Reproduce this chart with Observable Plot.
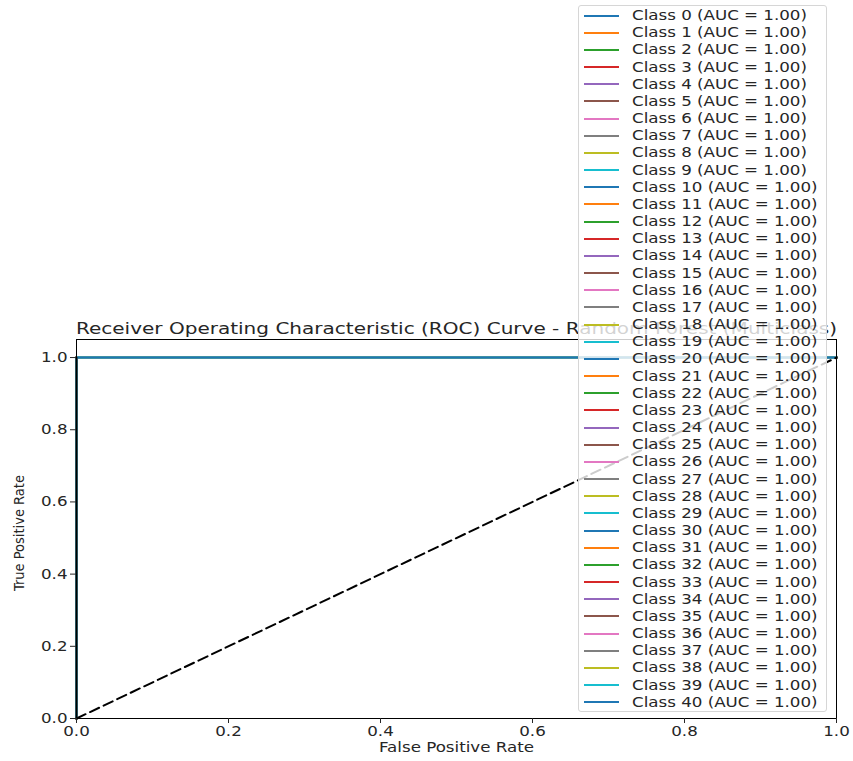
<!DOCTYPE html>
<html>
<head>
<meta charset="utf-8">
<script src="https://cdn.jsdelivr.net/npm/d3@7"></script>
<script src="https://cdn.jsdelivr.net/npm/@observablehq/plot@0.6"></script>
<style>
  html, body { margin: 0; padding: 0; background: #fff; }
  #wrap { position: relative; width: 853px; height: 761px; font-family: "DejaVu Sans", sans-serif; }
  #legend { position: absolute; left: 578px; top: 5px; width: 249px; height: 707px;
    background: rgba(255,255,255,0.8); border: 1px solid #d6d6d6; border-radius: 3px; box-sizing: border-box; }
  .row { position: absolute; left: 0; height: 17px; width: 100%; }
  .row .h { position: absolute; left: 5px; top: 7.5px; width: 35px; height: 2px; }
  .row .t { position: absolute; left: 53px; top: 0; font-size: 13.9px; line-height: 17px; color: #262626;
    white-space: nowrap; transform: scaleX(1.2); transform-origin: 0 50%; }
</style>
</head>
<body>
<div id="wrap"></div>
<script>
const classes = [0,1,2,3,4,5,6,7,8,9,10,11,12,13,14,15,16,17,18,19,20,21,22,23,24,25,26,27,28,29,30,31,32,33,34,35,36,37,38,39,40];
const aucValues = [1.00,1.00,1.00,1.00,1.00,1.00,1.00,1.00,1.00,1.00,1.00,1.00,1.00,1.00,1.00,1.00,1.00,1.00,1.00,1.00,1.00,1.00,1.00,1.00,1.00,1.00,1.00,1.00,1.00,1.00,1.00,1.00,1.00,1.00,1.00,1.00,1.00,1.00,1.00,1.00,1.00];
const fpr = [0, 0, 1];
const tpr = [0, 1, 1];
const chanceX = [0, 1];
const chanceY = [0, 1];
const palette = ["#1f77b4","#ff7f0e","#2ca02c","#d62728","#9467bd","#8c564b","#e377c2","#7f7f7f","#bcbd22","#17becf"];
const xTicks = [0, 0.2, 0.4, 0.6, 0.8, 1.0];
const yTicks = [0, 0.2, 0.4, 0.6, 0.8, 1.0];
const titleText = "Receiver Operating Characteristic (ROC) Curve - Random Forest (Multiclass)";
const xLabel = "False Positive Rate";
const yLabel = "True Positive Rate";

const rocData = classes.flatMap((c, i) => fpr.map((f, j) => ({cls: c, color: palette[i % 10], x: f, y: tpr[j]})));
const diag = chanceX.map((x, i) => ({x, y: chanceY[i]}));

const chart = Plot.plot({
  width: 853,
  height: 761,
  marginLeft: 76,
  marginRight: 17,
  marginTop: 339,
  marginBottom: 43,
  style: {fontFamily: "DejaVu Sans, sans-serif", fontSize: "13.9px", color: "#262626", background: "#fff"},
  x: {domain: [0, 1], label: null},
  y: {domain: [0, 1.05], label: null},
  marks: [
    Plot.line(rocData, {x: "x", y: "y", z: "cls", stroke: "color", strokeWidth: 2}),
    Plot.line(diag, {x: "x", y: "y", stroke: "black", strokeWidth: 2, strokeDasharray: "10,5"}),
    Plot.ruleX([0], {y1: 0, y2: 1, stroke: "#111", strokeWidth: 2}),
    Plot.frame({stroke: "black", strokeWidth: 1}),
    Plot.axisX({ticks: xTicks, tickFormat: d3.format(".1f"), tickSize: 5, tickPadding: 3, label: null, fontSize: 13.9}),
    Plot.axisY({ticks: yTicks, tickFormat: d3.format(".1f"), tickSize: 6, tickPadding: 3, label: null, fontSize: 13.9}),
    Plot.text([titleText], {frameAnchor: "top", dy: -6, fontSize: 16.7, fill: "#262626", lineAnchor: "bottom"}),
    Plot.text([xLabel], {frameAnchor: "bottom", dy: 29, fontSize: 13.9, fill: "#262626", lineAnchor: "middle"}),
    Plot.text([yLabel], {frameAnchor: "left", textAnchor: "middle", dx: -57, dy: 4, rotate: -90, fontSize: 14.5, fill: "#262626", fontFamily: "DejaVu Sans Condensed, Liberation Sans Narrow, sans-serif", fontStretch: "condensed"})
  ]
});

const wrap = document.getElementById("wrap");
wrap.appendChild(chart);

// horizontal stretch of the reference's horizontal texts
d3.select(chart).selectAll("text").each(function () {
  if (this.textContent === yLabel) return;
  const len = this.getComputedTextLength();
  if (len > 0) {
    this.setAttribute("textLength", (len * 1.2).toFixed(2));
    this.setAttribute("lengthAdjust", "spacingAndGlyphs");
  }
});

const legend = document.createElement("div");
legend.id = "legend";
classes.forEach((c, i) => {
  const row = document.createElement("div");
  row.className = "row";
  row.style.top = (1 + i * 17.17) + "px";
  const h = document.createElement("div");
  h.className = "h";
  h.style.background = palette[i % 10];
  const t = document.createElement("div");
  t.className = "t";
  t.textContent = `Class ${c} (AUC = ${aucValues[i].toFixed(2)})`;
  row.appendChild(h);
  row.appendChild(t);
  legend.appendChild(row);
});
wrap.appendChild(legend);
</script>
</body>
</html>
